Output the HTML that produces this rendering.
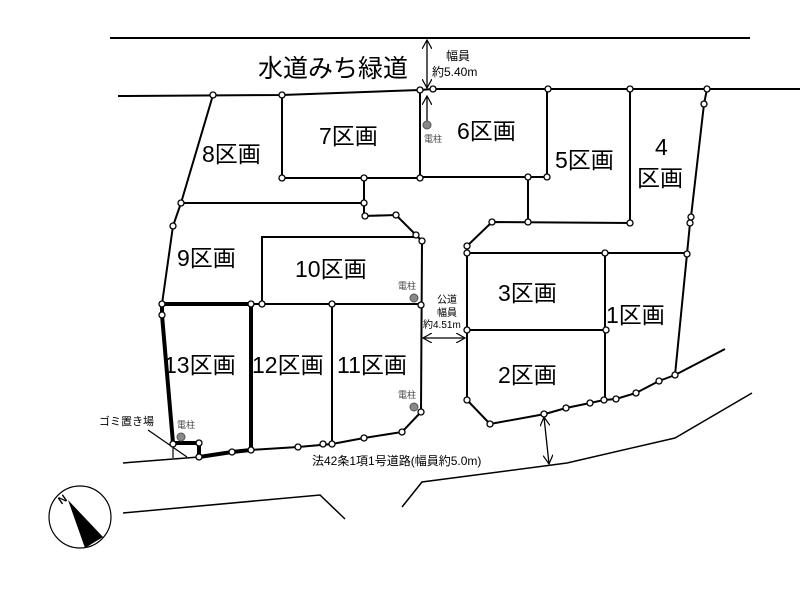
<!DOCTYPE html>
<html><head><meta charset="utf-8"><style>
html,body{margin:0;padding:0;background:#fff;}
svg{display:block;font-family:"Liberation Sans","Noto Sans CJK JP",sans-serif;}
</style></head><body>
<svg width="800" height="600" viewBox="0 0 800 600" xmlns="http://www.w3.org/2000/svg">
<defs><marker id="a" markerWidth="10" markerHeight="10" refX="9" refY="5" orient="auto-start-reverse" markerUnits="userSpaceOnUse"><path d="M0,0 L9,5 L0,10" fill="none" stroke="#000" stroke-width="1.2"/></marker></defs>
<g stroke="#000" stroke-width="2" fill="none">
<line x1="110" y1="38" x2="750" y2="38"/>
<polyline points="118,96 282,95 420,90 433,89 800,89"/>
<line x1="427" y1="40" x2="427" y2="88" stroke-width="1.3" marker-start="url(#a)" marker-end="url(#a)"/>
<line x1="427" y1="121" x2="427" y2="96" stroke-width="1.3" marker-end="url(#a)"/>
<polyline points="282,95 282,178 420,178"/>
<line x1="420" y1="90" x2="420" y2="178"/>
<polyline points="420,177 528,177 547,177 547,89"/>
<polyline points="528,177 528,222"/>
<polyline points="630,89 630,223 492,222 467,246 467,400 490,424 545,414 566,408 590,403 604,400 616,399 636,393 659,381 675,375 725,349"/>
<polyline points="707,89 704,104 691,217 690,223 687,254 675,375"/>
<line x1="467" y1="253" x2="687" y2="253"/>
<line x1="467" y1="330" x2="606" y2="330"/>
<line x1="605" y1="253" x2="605" y2="400"/>
<line x1="544" y1="417" x2="549" y2="464" stroke-width="1.3" marker-start="url(#a)" marker-end="url(#a)"/>
<line x1="423" y1="338" x2="465" y2="338" stroke-width="1.3" marker-start="url(#a)" marker-end="url(#a)"/>
<polyline points="213,95 181,203 173,226 162,304"/>
<polyline points="181,203 364,203"/>
<polyline points="364,178 364,216 396,215 416,235 422,241 421,412 402,432 364,438 332,444 298,447 251,450"/>
<polyline points="262,304 262,237 416,237"/>
<line x1="251" y1="304" x2="421" y2="304"/>
<line x1="332" y1="304" x2="332" y2="444"/>
<polyline points="123,463 199,457" stroke-width="1.5"/>
<polyline points="162,304 251,304 251,450 232,452 199,457 199,443 173,443 162,315 162,304" stroke-width="4"/>
<line x1="173" y1="443" x2="173" y2="458" stroke-width="1.2"/>
<line x1="148" y1="430" x2="187" y2="457" stroke-width="1.2"/>
<polyline points="123,513 320,495 345,519" stroke-width="1.5"/>
<polyline points="402,507 422,482 567,463 675,438 752,393" stroke-width="1.5"/>
<circle cx="80" cy="517" r="31" stroke-width="1.2"/>
</g>
<polygon points="68,500 85,548 103,537" fill="#000"/>
<text x="58" y="502" font-size="11" font-weight="bold" transform="rotate(-35 64 498)">N</text>
<g fill="#888" stroke="#555"><circle cx="427" cy="125" r="4"/><circle cx="414" cy="298" r="4"/><circle cx="414" cy="407" r="4"/><circle cx="181" cy="437" r="4"/></g>
<g fill="#fff" stroke="#000" stroke-width="1.3">
<circle cx="213" cy="95" r="3"/><circle cx="282" cy="95" r="3"/><circle cx="420" cy="90" r="3"/><circle cx="433" cy="89" r="3"/><circle cx="548" cy="89" r="3"/><circle cx="630" cy="89" r="3"/><circle cx="707" cy="89" r="3"/><circle cx="704" cy="104" r="3"/>
<circle cx="282" cy="178" r="3"/><circle cx="364" cy="178" r="3"/><circle cx="420" cy="178" r="3"/><circle cx="528" cy="177" r="3"/><circle cx="547" cy="177" r="3"/>
<circle cx="492" cy="222" r="3"/><circle cx="528" cy="222" r="3"/><circle cx="630" cy="223" r="3"/><circle cx="691" cy="217" r="3"/><circle cx="690" cy="223" r="3"/><circle cx="687" cy="254" r="3"/>
<circle cx="467" cy="246" r="3"/><circle cx="467" cy="253" r="3"/><circle cx="605" cy="253" r="3"/><circle cx="467" cy="330" r="3"/><circle cx="606" cy="330" r="3"/>
<circle cx="467" cy="400" r="3"/><circle cx="490" cy="424" r="3"/><circle cx="544" cy="414" r="3"/><circle cx="566" cy="408" r="3"/><circle cx="590" cy="403" r="3"/><circle cx="604" cy="400" r="3"/><circle cx="616" cy="399" r="3"/><circle cx="636" cy="393" r="3"/><circle cx="659" cy="381" r="3"/><circle cx="675" cy="375" r="3"/>
<circle cx="181" cy="203" r="3"/><circle cx="173" cy="226" r="3"/><circle cx="364" cy="203" r="3"/><circle cx="365" cy="216" r="3"/><circle cx="396" cy="215" r="3"/><circle cx="416" cy="235" r="3"/><circle cx="422" cy="241" r="3"/>
<circle cx="262" cy="304" r="3"/><circle cx="332" cy="304" r="3"/><circle cx="421" cy="305" r="3"/><circle cx="162" cy="304" r="3"/><circle cx="162" cy="315" r="3"/><circle cx="251" cy="304" r="3"/>
<circle cx="421" cy="412" r="3"/><circle cx="402" cy="432" r="3"/><circle cx="364" cy="438" r="3"/><circle cx="332" cy="444" r="3"/><circle cx="323" cy="444" r="3"/><circle cx="298" cy="447" r="3"/><circle cx="251" cy="450" r="3"/><circle cx="232" cy="452" r="3"/><circle cx="199" cy="457" r="3"/><circle cx="199" cy="443" r="3"/><circle cx="173" cy="444" r="3"/>
</g>
<g fill="#000">
<text x="258" y="77" font-size="25">水道みち緑道</text>
<text x="446" y="60" font-size="12">幅員</text>
<text x="432" y="76" font-size="12">約5.40m</text>
<g font-size="23">
<text x="319" y="144">7区画</text>
<text x="202" y="162">8区画</text>
<text x="457" y="139">6区画</text>
<text x="555" y="168">5区画</text>
<text x="655" y="155">4</text>
<text x="637" y="186">区画</text>
<text x="177" y="266">9区画</text>
<text x="295" y="277">10区画</text>
<text x="498" y="301">3区画</text>
<text x="606" y="323">1区画</text>
<text x="498" y="383">2区画</text>
<text x="164" y="373">13区画</text>
<text x="252" y="373">12区画</text>
<text x="337" y="373">11区画</text>
</g>
<g font-size="10">
<text x="437" y="303">公道</text>
<text x="437" y="316">幅員</text>
<text x="423" y="328">約4.51m</text>
</g>
<g font-size="9" fill="#444">
<text x="424" y="142">電柱</text>
<text x="398" y="289">電柱</text>
<text x="398" y="398">電柱</text>
<text x="177" y="428">電柱</text>
</g>
<text x="99" y="425" font-size="11">ゴミ置き場</text>
<text x="312" y="465" font-size="12">法42条1項1号道路(幅員約5.0m)</text>
</g>
</svg>
</body></html>
